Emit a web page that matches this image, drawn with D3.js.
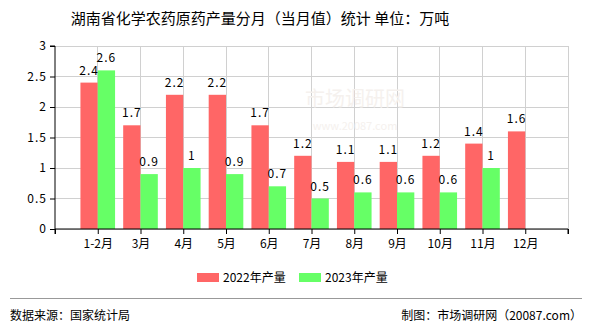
<!DOCTYPE html>
<html><head><meta charset="utf-8">
<script src="https://cdn.jsdelivr.net/npm/d3@7"></script>
<style>
body{margin:0;background:#fff;}
text{font-family:"Noto Sans CJK SC","Noto Sans",sans-serif;}
</style></head>
<body><svg id="c" width="590" height="330"></svg>
<script>
const categories = ["1-2月","3月","4月","5月","6月","7月","8月","9月","10月","11月","12月"];
const series2022 = [2.4,1.7,2.2,2.2,1.7,1.2,1.1,1.1,1.2,1.4,1.6];
const series2023 = [2.6,0.9,1,0.9,0.7,0.5,0.6,0.6,0.6,1,null];
const seriesNames = ["2022年产量","2023年产量"];
const yTicks = [0,0.5,1,1.5,2,2.5,3];
const colors = ["#ff6666","#66ff66"];

(function(){
const svg = d3.select("#c");
const pl=55, pr=568, pt=46, pb=229;
const slots = ["__s"].concat(categories, ["__e"]);
const x = d3.scalePoint().domain(slots).range([pl,pr]);
const y = d3.scaleLinear().domain([0,3]).range([pb,pt]);
const step = x.step();
const bw = step*0.405;

// title
svg.append("text").attr("x",260).attr("y",24).attr("text-anchor","middle")
  .attr("font-size",15).attr("fill","#000").text("湖南省化学农药原药产量分月（当月值）统计 单位：万吨");

// gridlines
const g = svg.append("g");
g.selectAll("line.h").data(yTicks).enter().append("line")
  .attr("x1",pl).attr("x2",pr).attr("y1",d=>y(d)).attr("y2",d=>y(d))
  .attr("stroke","#d0d0d0").attr("stroke-width",1).attr("shape-rendering","crispEdges");
g.selectAll("line.v").data(slots.slice(1)).enter().append("line")
  .attr("x1",d=>x(d)).attr("x2",d=>x(d)).attr("y1",pt).attr("y2",pb)
  .attr("stroke","#d0d0d0").attr("stroke-width",1).attr("shape-rendering","crispEdges");

// watermark
svg.append("text").attr("x",355).attr("y",106).attr("text-anchor","middle")
  .attr("font-size",20).attr("fill","#f5f1ee").text("市场调研网");
svg.append("text").attr("x",355).attr("y",130).attr("text-anchor","middle")
  .attr("font-size",11).attr("fill","#f5f1ee").text("www.20087.com");

// bars
const data = [series2022, series2023];
data.forEach((vals,si)=>{
  const gg = svg.append("g");
  const items = categories.map((c,i)=>({c, v: vals[i]})).filter(d=>d.v!=null);
  gg.selectAll("rect").data(items).enter().append("rect")
    .attr("x",d=> si===0 ? x(d.c)-bw : x(d.c))
    .attr("width",bw)
    .attr("y",d=>y(d.v)).attr("height",d=>pb-y(d.v))
    .attr("fill",colors[si]);
  gg.selectAll("text").data(items).enter().append("text")
    .attr("x",d=> (si===0 ? x(d.c)-bw/2 : x(d.c)+bw/2))
    .attr("y",d=>y(d.v)-8)
    .attr("text-anchor","middle").attr("font-size",12).attr("fill","#000")
    .attr("letter-spacing",1)
    .text(d=>d3.format("")(d.v));
});

// axes
const yAxis = d3.axisLeft(y).tickValues(yTicks).tickSize(5).tickFormat(d3.format(""));
const ya = svg.append("g").attr("transform",`translate(${pl},0)`).call(yAxis);
ya.select(".domain").attr("stroke","#000").attr("d",`M-5,${pt}H0V${pb}`);
ya.selectAll("text").attr("font-size",12).attr("fill","#000").attr("letter-spacing",1)
  .attr("font-family","'Noto Sans CJK SC',sans-serif");

const xAxis = d3.axisBottom(x).tickSize(5).tickFormat(d=>d.startsWith("__")?"":d);
const xa = svg.append("g").attr("transform",`translate(0,${pb})`).call(xAxis);
xa.select(".domain").attr("stroke","#000").attr("d",`M${pl},5V0H${pr}V5`);
xa.selectAll("text").attr("font-size",12).attr("fill","#000").attr("dy","0.9em")
  .attr("font-family","'Noto Sans CJK SC',sans-serif");

// legend
const lg = svg.append("g");
const legendX = [197, 299];
seriesNames.forEach((n,i)=>{
  lg.append("rect").attr("x",legendX[i]).attr("y",273).attr("width",22).attr("height",9).attr("fill",colors[i]);
  lg.append("text").attr("x",legendX[i]+26).attr("y",282).attr("font-size",12).attr("fill","#000").text(n);
});

// footer
svg.append("line").attr("x1",10).attr("x2",582).attr("y1",298.5).attr("y2",298.5).attr("stroke","#999");
svg.append("text").attr("x",10).attr("y",320).attr("font-size",12).attr("fill","#000").text("数据来源：国家统计局");
svg.append("text").attr("x",582).attr("y",320).attr("text-anchor","end").attr("font-size",12).attr("fill","#000").text("制图：市场调研网（20087.com）");
})();
</script></body></html>
